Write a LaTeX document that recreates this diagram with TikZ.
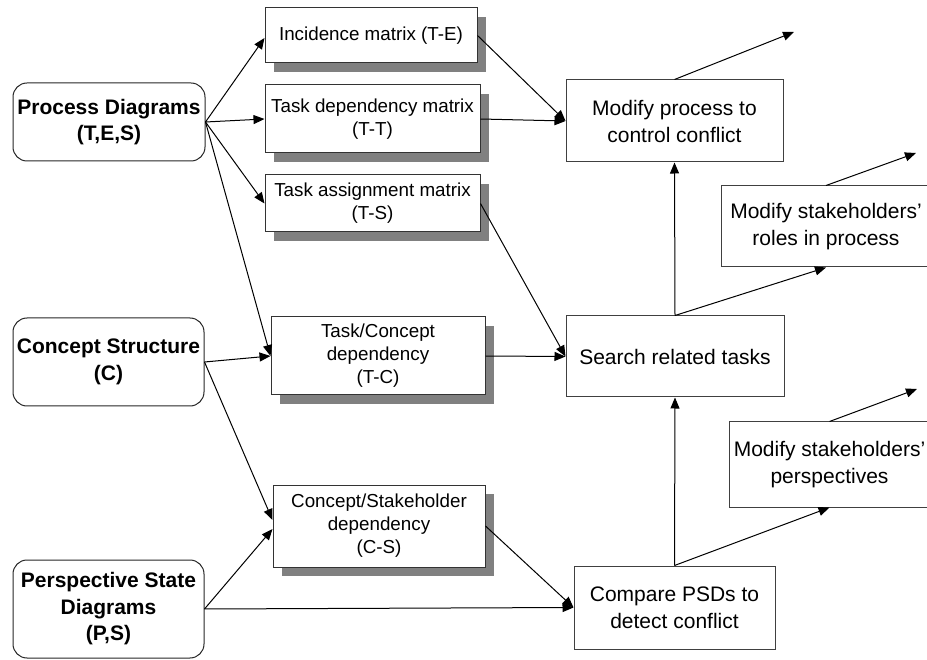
\documentclass[tikz,border=0pt]{standalone}
\usepackage{fontspec}
\setmainfont{Liberation Sans}
\usetikzlibrary{arrows.meta,shadows}
\begin{document}
\begin{tikzpicture}[x=1pt,y=-1pt,
  source/.style={draw=black!85, line width=1pt, rounded corners=14pt, align=center,
    inner sep=0pt, font=\fontsize{21}{26.5}\selectfont\bfseries},
  matrixbox/.style={draw=black!80, fill=white, line width=1pt, align=center, inner sep=0pt,
    font=\fontsize{18.8}{23}\selectfont,
    drop shadow={shadow xshift=9pt, shadow yshift=-9pt, fill=black!50, opacity=1}},
  actionbox/.style={draw=black!75, fill=white, line width=1pt, align=center, inner sep=0pt,
    font=\fontsize{21}{27}\selectfont},
  flow/.style={line width=1pt, -{Triangle[length=11pt,width=9pt]}}
]
\clip (0,0) rectangle (927,660);

% input models
\node[source, minimum width=192pt, minimum height=78pt] (proc) at (109,122) {Process Diagrams\\(T,E,S)};
\node[source, minimum width=191pt, minimum height=88pt] (conc) at (108.5,362) {Concept Structure\\(C)};
\node[source, minimum width=191pt, minimum height=98pt] (persp) at (108.5,609) {Perspective State\\Diagrams\\(P,S)};

% derived matrices
\node[matrixbox, minimum width=212pt, minimum height=55pt] (inc) at (371,35.5) {Incidence matrix (T-E)};
\node[matrixbox, minimum width=215pt, minimum height=68pt] (tdep) at (372.5,119) {Task dependency matrix\\(T-T)};
\node[matrixbox, minimum width=215pt, minimum height=57pt] (tasg) at (372.5,203.5) {Task assignment matrix\\(T-S)};
\node[matrixbox, minimum width=214pt, minimum height=78pt] (tcon) at (378,356) {Task/Concept\\dependency\\(T-C)};
\node[matrixbox, minimum width=212pt, minimum height=82pt] (csdep) at (379,526) {Concept/Stakeholder\\dependency\\(C-S)};

% analysis and actions
\node[actionbox, minimum width=217pt, minimum height=82pt] (modproc) at (674.5,121) {Modify process to\\control conflict};
\node[actionbox, minimum width=218pt, minimum height=81pt] (search) at (675,356.5) {Search related tasks};
\node[actionbox, minimum width=201pt, minimum height=83pt] (compare) at (674.5,607.5) {Compare PSDs to\\detect conflict};
\node[actionbox, minimum width=210pt, minimum height=81pt] (modroles) at (826,226.5) {Modify stakeholders'\\roles in process};
\node[actionbox, minimum width=201pt, minimum height=85pt] (modpersp) at (829.5,464.5) {Modify stakeholders'\\perspectives};

% open-ended outputs
\coordinate (out1) at (794,32);
\coordinate (out2) at (916,153);
\coordinate (out3) at (917,389);

% connectors
\draw[flow] (proc.east) -- ([yshift=-2.5pt]inc.west);
\draw[flow] (proc.east) -- (tdep.west);
\draw[flow] (proc.east) -- (tasg.west);
\draw[flow] (proc.east) -- (tcon.west);
\draw[flow] (conc.east) -- (tcon.west);
\draw[flow] (conc.east) -- ([yshift=6pt]csdep.west);
\draw[flow] (persp.east) -- ([yshift=-3pt]csdep.west);
\draw[flow] (persp.east) -- (compare.west);
\draw[flow] (csdep.east) -- (compare.west);
\draw[flow] (inc.east) -- (modproc.west);
\draw[flow] (tdep.east) -- (modproc.west);
\draw[flow] (tasg.east) -- (search.west);
\draw[flow] (tcon.east) -- (search.west);
\draw[flow] (search.north) -- (modproc.south);
\draw[flow] (search.north) -- (modroles.south);
\draw[flow] (compare.north) -- (search.south);
\draw[flow] (compare.north) -- (modpersp.south);
\draw[flow] (modproc.north) -- (out1);
\draw[flow] (modroles.north) -- (out2);
\draw[flow] (modpersp.north) -- (out3);
\end{tikzpicture}
\end{document}
